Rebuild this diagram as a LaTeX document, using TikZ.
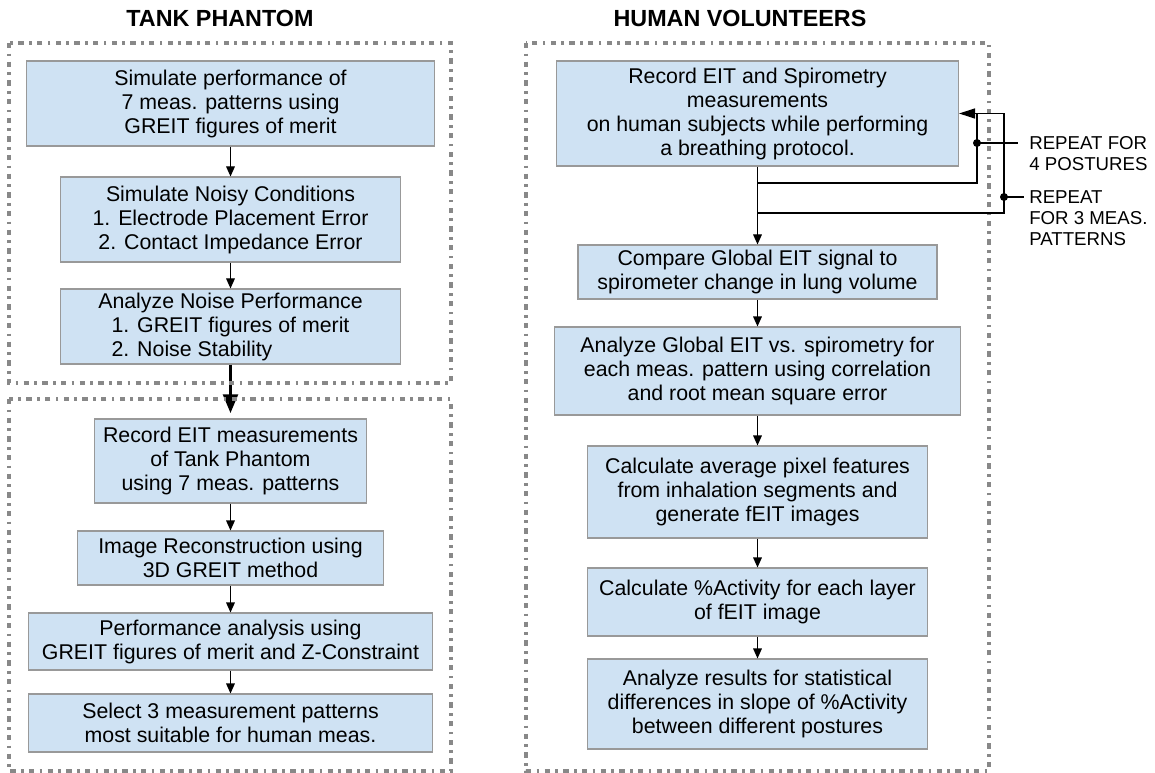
\documentclass[tikz,border=0pt]{standalone}
\usepackage{fontspec}
\setmainfont{Liberation Sans}
\usepackage{calc}
\usetikzlibrary{arrows.meta}
\definecolor{boxfill}{HTML}{CFE2F3}
\definecolor{boxline}{HTML}{999999}
\definecolor{dotline}{HTML}{888888}
\tikzset{
  box/.style={draw=boxline, line width=0.8pt, fill=boxfill, align=center,
    font=\fontsize{16}{18}\selectfont, inner sep=1pt},
  container/.style={draw=dotline, line width=2.5pt,
    dash pattern=on 4pt off 4pt on 2pt off 4pt},
  flow/.style={line width=0.8pt, -{Triangle[length=7.5pt,width=6.5pt]}},
  bigflow/.style={line width=2.3pt, -{Triangle[length=14pt,width=11pt]}},
  loopline/.style={line width=1.1pt},
  looparrow/.style={line width=1.1pt, -{Triangle[length=12pt,width=7.5pt]}},
  title/.style={font=\fontsize{17.5}{20}\selectfont\bfseries, inner sep=0pt},
  lbl/.style={font=\fontsize{14}{15.75}\selectfont, align=left, inner sep=0pt, anchor=north west},
  dot/.style={circle, fill=black, inner sep=0pt, minimum size=6pt},
}
\begin{document}
\begin{tikzpicture}[x=0.75pt, y=-0.75pt]
\useasboundingbox (0,0) rectangle (1155,773);

% titles
\node[title] (t1) at (220,18) {TANK PHANTOM};
\node[title] (t2) at (740,18) {HUMAN VOLUNTEERS};

% left column
\node[box, minimum width=408*0.75pt, minimum height=85*0.75pt] (L1) at (230.5,103.5)
  {Simulate performance of\\7 meas. patterns using\\GREIT figures of merit};
\node[box, minimum width=340*0.75pt, minimum height=85*0.75pt] (L2) at (230.5,219.5)
  {Simulate Noisy Conditions\\1. Electrode Placement Error\\2. Contact Impedance Error};
\node[box, minimum width=340*0.75pt, minimum height=75*0.75pt] (L3) at (230.5,326.5)
  {Analyze Noise Performance\\1. GREIT figures of merit\\\makebox[\widthof{1. GREIT figures of merit}][l]{2. Noise Stability}};
\node[box, minimum width=272*0.75pt, minimum height=84*0.75pt] (L4) at (230.5,461)
  {Record EIT measurements\\of Tank Phantom\\using 7 meas. patterns};
\node[box, minimum width=306*0.75pt, minimum height=54*0.75pt] (L5) at (230.5,558)
  {Image Reconstruction using\\3D GREIT method};
\node[box, minimum width=404*0.75pt, minimum height=57*0.75pt] (L6) at (230.5,641.5)
  {Performance analysis using\\GREIT figures of merit and Z-Constraint};
\node[box, minimum width=404*0.75pt, minimum height=58*0.75pt] (L7) at (230.5,723)
  {Select 3 measurement patterns\\most suitable for human meas.};

\draw[flow] (L1) -- (L2);
\draw[flow] (L2) -- (L3);
\draw[bigflow, shorten >=4pt] (L3) -- (L4);
\draw[flow] (L4) -- (L5);
\draw[flow] (L5) -- (L6);
\draw[flow] (L6) -- (L7);

% containers (drawn over the thick arrow, as in the reference)
\draw[container] (9,43) rectangle (451,383);
\draw[container] (9,399) rectangle (451,771);
\draw[container] (526,43) rectangle (989,771);

% right column
\node[box, minimum width=402*0.75pt, minimum height=105*0.75pt] (R1) at (757.5,113.5)
  {Record EIT and Spirometry\\measurements\\on human subjects while performing\\a breathing protocol.};
\node[box, minimum width=359*0.75pt, minimum height=54*0.75pt] (R2) at (757.5,272)
  {Compare Global EIT signal to\\spirometer change in lung volume};
\node[box, minimum width=406*0.75pt, minimum height=88*0.75pt] (R3) at (757.5,371)
  {Analyze Global EIT vs. spirometry for\\each meas. pattern using correlation\\and root mean square error};
\node[box, minimum width=340*0.75pt, minimum height=92*0.75pt] (R4) at (757.5,492)
  {Calculate average pixel features\\from inhalation segments and\\generate fEIT images};
\node[box, minimum width=340*0.75pt, minimum height=68*0.75pt] (R5) at (757.5,602)
  {Calculate \%Activity for each layer\\of fEIT image};
\node[box, minimum width=340*0.75pt, minimum height=90*0.75pt] (R6) at (757.5,704)
  {Analyze results for statistical\\differences in slope of \%Activity\\between different postures};

\draw[flow] (R1) -- (R2);
\draw[flow] (R2) -- (R3);
\draw[flow] (R3) -- (R4);
\draw[flow] (R4) -- (R5);
\draw[flow] (R5) -- (R6);

% repeat loops
\coordinate (b1) at (757.5,183);
\coordinate (b2) at (757.5,213);
\node[dot] (d1) at (977,143) {};
\node[dot] (d2) at (1004,197) {};
\coordinate (e1) at (1018,143);
\coordinate (e2) at (1024,197);
\draw[looparrow] (b1) -| (d1.center) |- (R1.east);
\draw[loopline] (b2) -| (d2.center) |- (R1.east -| d1);
\draw[loopline] (d1.center) -- (e1);
\draw[loopline] (d2.center) -- (e2);
\node[lbl] (lab1) at (1029,136.3) {REPEAT FOR\\4 POSTURES};
\node[lbl] (lab2) at (1029,190.3) {REPEAT\\FOR 3 MEAS.\\PATTERNS};
\end{tikzpicture}
\end{document}
